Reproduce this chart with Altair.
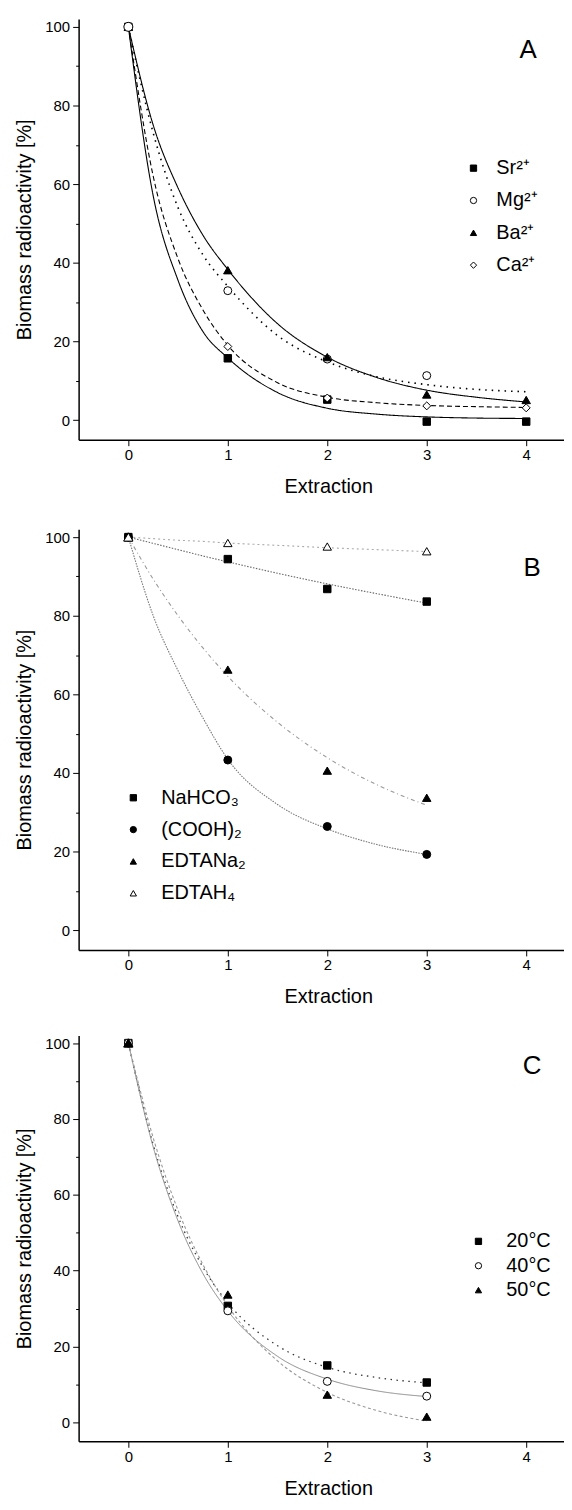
import altair as alt
import pandas as pd

FONT = "Liberation Sans"

# ---------------- Panel A ----------------
a_names = ["Sr²⁺", "Mg²⁺", "Ba²⁺", "Ca²⁺"]
a_x = [0, 1, 2, 3, 4]
a_sr = [100, 15.7, 5.2, -0.4, -0.4]
a_mg = [100, 32.9, 15.5, 11.3, None]
a_ba = [100, 38.1, 16.0, 6.5, 5.1]
a_ca = [100, 18.7, 5.6, 3.6, 3.1]
a_fit_x = [0, 0.25, 0.5, 0.75, 1, 1.5, 2, 2.5, 3, 3.5, 4]
a_sr_fit = [100, 57, 35.5, 22.5, 15.8, 7, 3, 1.5, 0.8, 0.5, 0.4]
a_mg_fit = [100, 73, 54, 42, 34, 21.5, 14.8, 11, 9, 7.8, 7.2]
a_ba_fit = [100, 75, 59, 47, 38.3, 24.5, 16, 10.8, 7.6, 5.8, 4.6]
a_ca_fit = [100, 62, 41, 28, 19, 9.5, 5.8, 4.4, 3.7, 3.4, 3.2]

# ---------------- Panel B ----------------
b_names = ["NaHCO₃", "(COOH)₂", "EDTANa₂", "EDTAH₄"]
b_x = [0, 1, 2, 3]
b_nahco3 = [100, 94.4, 86.8, 83.6]
b_cooh = [100, 43.3, 26.4, 19.3]
b_edtana2 = [100, 66.3, 40.6, 33.7]
b_edtah4 = [100, 98.5, 97.6, 96.4]
b_fit_x = [0, 0.25, 0.5, 0.75, 1, 1.5, 2, 2.5, 3]
b_nahco3_fit = [100, 98.4, 96.8, 95.2, 93.7, 90.8, 88.1, 85.6, 83.2]
b_cooh_fit = [100, 80, 66, 54, 43.5, 32, 25.8, 21.8, 19.3]
b_edtana2_fit = [100, 89.3, 80, 71.8, 64.6, 52.9, 43.9, 37, 31.8]
b_edtah4_fit = [100, 99.6, 99.2, 98.9, 98.5, 97.9, 97.3, 96.8, 96.3]

# ---------------- Panel C ----------------
c_names = ["20°C", "40°C", "50°C"]
c_x = [0, 1, 2, 3]
c_20 = [100, 30.7, 15.0, 10.5]
c_40 = [100, 29.4, 10.8, 6.9]
c_50 = [100, 33.7, 7.3, 1.5]
c_fit_x = [0, 0.25, 0.5, 0.75, 1, 1.5, 2, 2.5, 3]
c_20_fit = [100, 73.2, 54.2, 40.9, 31.5, 20.2, 14.5, 11.8, 10.4]
c_40_fit = [100, 72.6, 53.1, 39.2, 29.4, 17.4, 11.4, 8.3, 6.8]
c_50_fit = [100, 75, 55.9, 41.6, 30.7, 16.2, 7.9, 3.1, 0.3]

X_MAX = 4.38
PLOT_W = 488


def long_df(names, xs, series):
    rows = []
    for name, ys in zip(names, series):
        for x, y in zip(xs, ys):
            if y is None:
                continue
            rows.append({"x": x, "y": y, "series": name})
    return pd.DataFrame(rows)


def make_panel(pts, fits, names, shapes, fills, sizes, styles, top_at_zero,
               height, leg_sx, leg_y0, leg_dy, leg_lx, leg_size, letter,
               letter_xy):
    xscale = alt.Scale(domain=[-0.5, X_MAX], nice=False, zero=False)
    yscale = alt.Scale(domain=[-5, 102], nice=False, zero=False)
    xaxis = alt.Axis(values=[0, 1, 2, 3, 4], format="d", title="Extraction",
                     titleX=251, tickSize=6, labelPadding=2, titlePadding=14,
                     labelFontSize=15, titleFontSize=20, labelFont=FONT,
                     titleFont=FONT, titleFontWeight="normal", grid=False,
                     domainColor="black", tickColor="black", labelColor="black",
                     titleColor="black", domainWidth=1.5, labelFlush=False)
    yaxis = alt.Axis(values=list(range(0, 101, 10)),
                     labelExpr="datum.value % 20 === 0 ? datum.label : ''",
                     tickSize={"condition": {"test": "datum.value % 20 === 0", "value": 6}, "value": 3},
                     title="Biomass radioactivity [%]", labelFontSize=15,
                     titleFontSize=20, labelFont=FONT, titleFont=FONT,
                     titleFontWeight="normal", grid=False, domainColor="black",
                     tickColor="black", labelColor="black", titleColor="black",
                     labelPadding=3, titlePadding=10, domainWidth=1.5,
                     labelFlush=False)
    enc = dict(x=alt.X("x:Q", scale=xscale, axis=xaxis),
               y=alt.Y("y:Q", scale=yscale, axis=yaxis))
    layers = []
    # fitted curves
    for name, (color, dash, width) in zip(names, styles):
        layers.append(
            alt.Chart(fits).transform_filter(alt.datum.series == name)
            .mark_line(interpolate="monotone", stroke=color, strokeDash=dash,
                       strokeWidth=width, clip=True)
            .encode(**enc)
        )
    # measured points, one layer per series
    for name, shp, fil, sz in zip(names, shapes, fills, sizes):
        layers.append(
            alt.Chart(pts).transform_filter(alt.datum.series == name)
            .mark_point(shape=shp, fill=fil, filled=True, stroke="black",
                        strokeWidth=1, size=sz, opacity=1)
            .encode(**enc)
        )
    # the series that is visible on top at extraction 0
    k = names.index(top_at_zero)
    layers.append(
        alt.Chart(pts).transform_filter(
            (alt.datum.series == top_at_zero) & (alt.datum.x == 0))
        .mark_point(shape=shapes[k], fill=fills[k], filled=True, stroke="black",
                    strokeWidth=1, size=sizes[k] + 16, opacity=1)
        .encode(**enc)
    )
    # hand-built legend: one symbol + one label per series
    legdf = pd.DataFrame({"series": names})
    for i, (name, shp, fil) in enumerate(zip(names, shapes, fills)):
        ly = leg_y0 + i * leg_dy
        one = legdf[legdf["series"] == name]
        layers.append(
            alt.Chart(one).mark_point(shape=shp, fill=fil, filled=True,
                                      stroke="black", strokeWidth=1,
                                      size=leg_size, opacity=1)
            .encode(x=alt.value(leg_sx), y=alt.value(ly))
        )
        layers.append(
            alt.Chart(one).mark_text(font=FONT, fontSize=20, color="black",
                                     align="left", baseline="middle")
            .encode(text="series:N", x=alt.value(leg_lx), y=alt.value(ly))
        )
    layers.append(
        alt.Chart(pd.DataFrame({"t": [letter]})).mark_text(
            font=FONT, fontSize=26, color="black", align="center", baseline="middle")
        .encode(text="t:N", x=alt.value(letter_xy[0]), y=alt.value(letter_xy[1]))
    )
    return alt.layer(*layers).properties(width=PLOT_W, height=height)


pa = long_df(a_names, a_x, [a_sr, a_mg, a_ba, a_ca])
fa = long_df(a_names, a_fit_x, [a_sr_fit, a_mg_fit, a_ba_fit, a_ca_fit])
pb = long_df(b_names, b_x, [b_nahco3, b_cooh, b_edtana2, b_edtah4])
fb = long_df(b_names, b_fit_x, [b_nahco3_fit, b_cooh_fit, b_edtana2_fit, b_edtah4_fit])
pc = long_df(c_names, c_x, [c_20, c_40, c_50])
fc = long_df(c_names, c_fit_x, [c_20_fit, c_40_fit, c_50_fit])

panel_a = make_panel(
    pa, fa, a_names,
    ["square", "circle", "triangle-up", "diamond"],
    ["black", "white", "black", "white"],
    [56, 64, 72, 64],
    [("black", [1, 0], 1.1), ("black", [1.5, 5], 1.6), ("black", [1, 0], 1.1), ("black", [5, 3], 1.1)],
    "Mg²⁺", 423, 397, 150, 32.5, 420, 40, "A", (452, 31))

panel_b = make_panel(
    pb, fb, b_names,
    ["square", "circle", "triangle-up", "triangle-up"],
    ["black", "black", "black", "white"],
    [56, 64, 72, 72],
    [("#666666", [1.5, 1.5], 1.1), ("#777777", [1.5, 1.2], 1.1), ("#999999", [4, 3, 1, 3], 1.1), ("#aaaaaa", [2, 3], 1.1)],
    "EDTAH₄", 423, 55, 270, 32, 83, 40, "B", (456, 39))

panel_c = make_panel(
    pc, fc, c_names,
    ["square", "circle", "triangle-up"],
    ["black", "white", "black"],
    [56, 64, 72],
    [("#333333", [1.5, 4.5], 1.3), ("#888888", [1, 0], 1.0), ("#999999", [3, 2.5], 1.1)],
    "50°C", 408, 402, 207, 24.5, 430, 40, "C", (456, 31))

top = alt.vconcat(panel_a, panel_b, spacing=33)
chart = alt.vconcat(top, panel_c, spacing=29).properties(
    padding={"top": 7, "left": 6, "right": 0, "bottom": 0}
).configure(font=FONT).configure_view(strokeWidth=0)

chart.save("out.html", embed_options={"renderer": "svg", "actions": False})
